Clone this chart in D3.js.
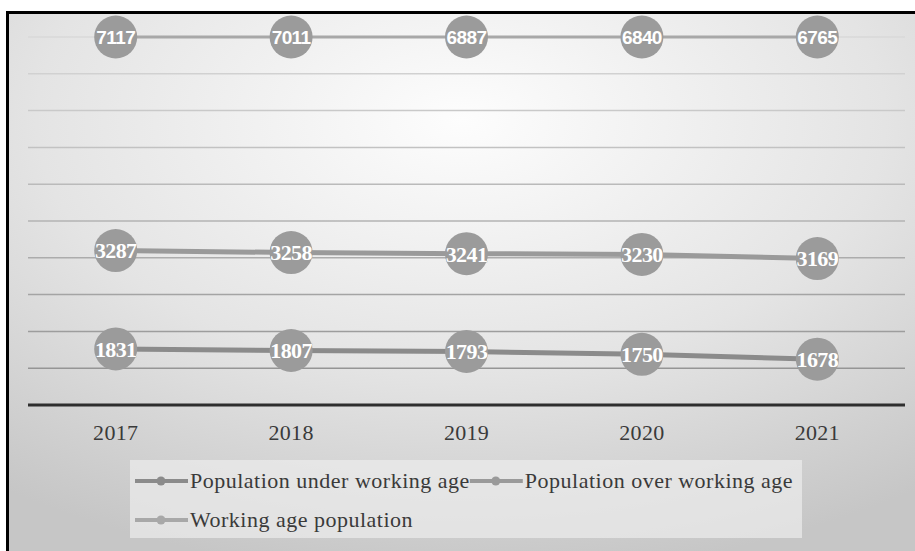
<!DOCTYPE html>
<html>
<head>
<meta charset="utf-8">
<script src="https://cdn.jsdelivr.net/npm/d3@7"></script>
<style>
  body { margin: 0; background: #fff; }
  svg { display: block; }
</style>
</head>
<body>
<div id="chart"></div>
<script>
// population by age group, 2017-2021
const years = ['2017', '2018', '2019', '2020', '2021'];
const underWorkingAge = [1831, 1807, 1793, 1750, 1678];
const overWorkingAge = [3287, 3258, 3241, 3230, 3169];
const workingAge = [7117, 7011, 6887, 6840, 6765];

const seriesNames = ['Population under working age', 'Population over working age', 'Working age population'];
const seriesValues = [underWorkingAge, overWorkingAge, workingAge];
const seriesColors = ['#8b8b8b', '#9a9a9a', '#a8a8a8'];
const seriesWidths = [5, 5, 3];
const labelFonts = ['Liberation Serif', 'Liberation Serif', 'Liberation Sans'];

const width = 915;
const height = 551;
const plot = { left: 28, right: 905, top: 37, bottom: 405 };

const svg = d3.select('#chart')
  .append('svg')
  .attr('width', width)
  .attr('height', height);

const defs = svg.append('defs');
const bg = defs.append('radialGradient')
  .attr('id', 'bg')
  .attr('cx', '50%').attr('cy', '20%')
  .attr('r', '85%');
bg.append('stop').attr('offset', '0%').attr('stop-color', '#fdfdfd');
bg.append('stop').attr('offset', '55%').attr('stop-color', '#e4e4e4');
bg.append('stop').attr('offset', '100%').attr('stop-color', '#c6c6c6');

svg.append('rect')
  .attr('x', 7).attr('y', 12)
  .attr('width', width - 7).attr('height', height - 12)
  .attr('fill', 'url(#bg)');

// frame (left + top only, the picture is cropped on the other sides)
svg.append('path')
  .attr('d', `M7.5,${height} V12.5 H${width}`)
  .attr('fill', 'none')
  .attr('stroke', '#000')
  .attr('stroke-width', 3);

const x = d3.scaleBand()
  .domain(years)
  .range([plot.left, plot.right]);

// values above the axis maximum get pinned to the top, like the original
const yMin = 1000, yStep = 545, yMax = 1000 + 10 * 545;
const y = d3.scaleLinear()
  .domain([yMin, yMax])
  .range([plot.bottom, plot.top])
  .clamp(true);

const gridTicks = d3.range(yMin + yStep, yMax + 1, yStep);
const gridColor = d3.scaleLinear()
  .domain([yMin, yMax])
  .range(['#8e8e8e', '#d8d8d8']);

svg.append('g')
  .selectAll('line')
  .data(gridTicks)
  .enter().append('line')
  .attr('x1', plot.left)
  .attr('x2', plot.right)
  .attr('y1', d => y(d))
  .attr('y2', d => y(d))
  .attr('stroke', d => gridColor(d))
  .attr('stroke-width', 1.5);

// x axis
svg.append('line')
  .attr('x1', plot.left).attr('x2', plot.right)
  .attr('y1', plot.bottom).attr('y2', plot.bottom)
  .attr('stroke', '#2e2e2e')
  .attr('stroke-width', 3);

svg.append('g')
  .selectAll('text')
  .data(years)
  .enter().append('text')
  .attr('x', d => x(d) + x.bandwidth() / 2)
  .attr('y', 440)
  .attr('text-anchor', 'middle')
  .attr('font-family', 'Liberation Serif, serif')
  .attr('font-size', 22)
  .attr('letter-spacing', 0.3)
  .attr('fill', '#3a3a3a')
  .text(d => d);

const line = d3.line()
  .x((d, i) => x(years[i]) + x.bandwidth() / 2)
  .y(d => y(d));

const series = svg.append('g')
  .selectAll('g')
  .data(seriesValues)
  .enter().append('g');

series.append('path')
  .attr('d', d => line(d))
  .attr('fill', 'none')
  .attr('stroke', (d, i) => seriesColors[i])
  .attr('stroke-width', (d, i) => seriesWidths[i]);

series.each(function (vals, si) {
  const g = d3.select(this);
  g.selectAll('circle')
    .data(vals)
    .enter().append('circle')
    .attr('cx', (d, i) => x(years[i]) + x.bandwidth() / 2)
    .attr('cy', d => y(d))
    .attr('r', 21.5)
    .attr('fill', '#9b9b9b');

  g.selectAll('text')
    .data(vals)
    .enter().append('text')
    .attr('x', (d, i) => x(years[i]) + x.bandwidth() / 2)
    .attr('y', d => y(d))
    .attr('dy', '0.36em')
    .attr('text-anchor', 'middle')
    .attr('font-family', labelFonts[si])
    .attr('font-weight', 'bold')
    .attr('font-size', si === 2 ? 19 : 22)
    .attr('letter-spacing', si === 2 ? -0.6 : -0.6)
    .attr('fill', '#fff')
    .attr('stroke', '#9b9b9b')
    .attr('stroke-width', 0.6)
    .attr('paint-order', 'stroke')
    .text(d => d);
});

// legend
const legend = svg.append('g');
legend.append('rect')
  .attr('x', 130).attr('y', 460)
  .attr('width', 672).attr('height', 78)
  .attr('fill', '#ededed')
  .attr('opacity', 0.7);

const legendRows = [[0, 1], [2]];
legendRows.forEach((row, r) => {
  let lx = 135;
  const ly = 481 + r * 39;
  row.forEach(si => {
    legend.append('line')
      .attr('x1', lx).attr('x2', lx + 53)
      .attr('y1', ly).attr('y2', ly)
      .attr('stroke', seriesColors[si])
      .attr('stroke-width', 4);
    legend.append('circle')
      .attr('cx', lx + 26).attr('cy', ly)
      .attr('r', 4.5)
      .attr('fill', seriesColors[si]);
    const t = legend.append('text')
      .attr('x', lx + 55)
      .attr('y', ly + 7)
      .attr('font-family', 'Liberation Serif, serif')
      .attr('font-size', 22)
      .attr('letter-spacing', 0.5)
      .attr('fill', '#3a3a3a')
      .text(seriesNames[si]);
    lx += 55 + t.node().getComputedTextLength();
  });
});
</script>
</body>
</html>
